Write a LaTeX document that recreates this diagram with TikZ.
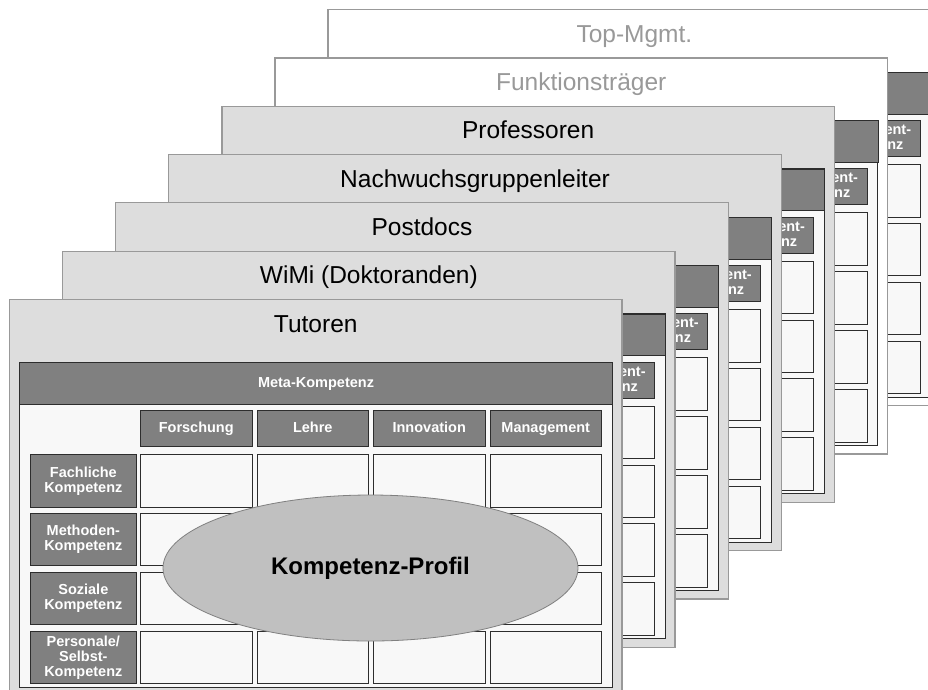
\documentclass[tikz,border=0pt]{standalone}
\usepackage{fontspec}
\setmainfont{Liberation Sans}
\usepackage{xcolor}
\usepackage{tikz}
\usetikzlibrary{shapes.geometric}

\definecolor{kartengrau}{RGB}{221,221,221}
\definecolor{kartenrand}{RGB}{153,153,153}
\definecolor{feldweiss}{RGB}{248,248,248}
\definecolor{balkengrau}{RGB}{128,128,128}
\definecolor{balkenrand}{RGB}{45,45,45}
\definecolor{profilgrau}{RGB}{192,192,192}

\tikzset{
  karte/.style={draw=kartenrand, line width=1.3pt},
  feld/.style={draw=balkenrand, line width=1pt, fill=feldweiss},
  kopf/.style={draw=balkenrand, line width=1pt, fill=balkengrau, inner sep=0pt, anchor=north west},
  zelle/.style={draw=balkenrand, line width=1pt, fill=feldweiss, inner sep=0pt, anchor=north west,
    minimum width=111.5pt, minimum height=52.5pt},
  kopftext/.style={text=white, font=\bfseries\fontsize{14.5}{15}\selectfont, align=center, inner sep=0pt},
  einzeilig/.style={kopftext, text height=10.5pt, text depth=3pt},
  titel/.style={font=\fontsize{24.5}{28}\selectfont, anchor=base},
}

% eine Karte der Kompetenzmatrix: #1 Ebene, #2 Titel, #3 Fuellung, #4 Titelfarbe
\newcommand{\kompetenzkarte}[4]{%
  \begin{scope}[shift={(9.5+53.1*#1,299.5-48.33*#1)}]
    \draw[karte, fill=#3] (0,0) rectangle (612.5,396);
    \node[titel, text=#4] (titel#1) at (306.25,32.5) {#2};
    \draw[feld] (9.5,62.5) rectangle (602.5,387.5);
    \node[kopf, minimum width=593pt, minimum height=41.5pt] (meta#1) at (9.5,62.5) {};
    % Spaltenkoepfe und Zellen
    \foreach \j in {0,...,3} {
      \node[kopf, minimum width=111.5pt, minimum height=36pt] (kopf#1-\j) at (130.5+116.5*\j,110.5) {};
      \foreach \i in {0,...,3}
        \node[zelle] (zelle#1-\i-\j) at (130.5+116.5*\j,154.5+58.9*\i) {};
    }
    % Zeilenkoepfe
    \foreach \i in {0,...,3}
      \node[kopf, minimum width=105.7pt, minimum height=52.5pt] (zeile#1-\i) at (20.5,154.5+58.9*\i) {};
  \end{scope}}

\begin{document}
\begin{tikzpicture}[x=1pt, y=-1pt]
  \useasboundingbox (0,0) rectangle (928,689);
  \clip (0,0) rectangle (928,689);

  % hintere Karten
  \foreach \k/\name/\fuell/\farbe in {6/Top-Mgmt./white/kartenrand,
      5/Funktionsträger/white/kartenrand, 4/Professoren/kartengrau/black,
      3/Nachwuchsgruppenleiter/kartengrau/black, 2/Postdocs/kartengrau/black,
      1/WiMi (Doktoranden)/kartengrau/black} {
    \kompetenzkarte{\k}{\name}{\fuell}{\farbe}
    \node[kopftext] at (kopf\k-3) {Management-\\Kompetenz};
  }

  % vordere Karte
  \kompetenzkarte{0}{Tutoren}{kartengrau}{black}
  \node[einzeilig] at (meta0) {Meta-Kompetenz};
  \foreach \j/\txt in {0/Forschung, 1/Lehre, 2/Innovation, 3/Management}
    \node[einzeilig] at (kopf0-\j) {\txt};
  \foreach \i/\txt in {0/{Fachliche\\Kompetenz}, 1/{Methoden-\\Kompetenz},
      2/{Soziale\\Kompetenz}, 3/{Personale/\\Selbst-\\Kompetenz}}
    \node[kopftext] at (zeile0-\i) {\txt};

  \node[ellipse, draw=balkengrau, line width=0.8pt, fill=profilgrau,
    minimum width=415pt, minimum height=146pt, inner sep=0pt,
    font=\bfseries\fontsize{24}{28}\selectfont] (profil) at (370.5,568) {Kompetenz-Profil};
\end{tikzpicture}
\end{document}
